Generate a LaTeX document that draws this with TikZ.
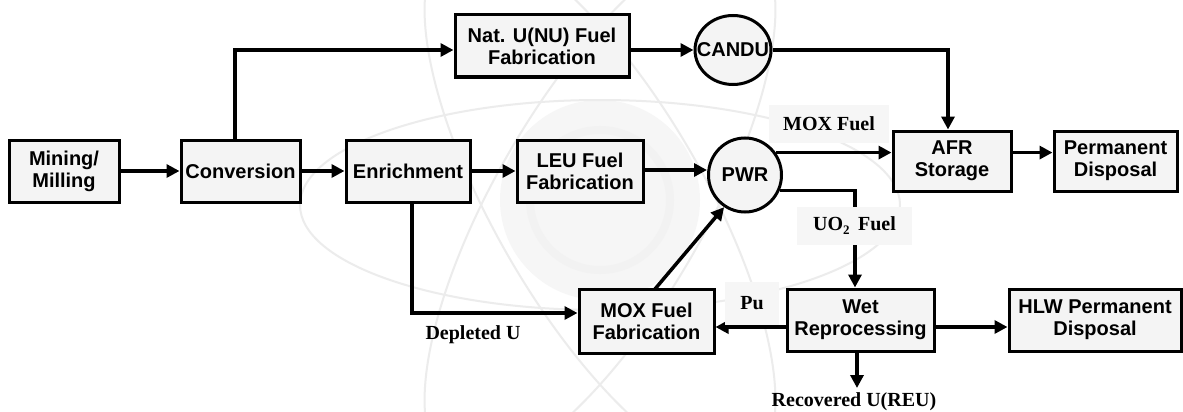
\documentclass[tikz,border=0pt]{standalone}
\usepackage{fontspec}
\setmainfont{Liberation Sans}
\newfontfamily\serifb{Liberation Serif}
\usetikzlibrary{arrows.meta,calc,shapes.geometric}
\definecolor{boxgray}{HTML}{F4F4F4}
\definecolor{labelgray}{HTML}{F6F6F6}
\definecolor{wmark}{HTML}{ECECEC}
\begin{document}
\begin{tikzpicture}[x=1pt,y=-1pt,
  box/.style={draw=black, line width=3pt, fill=boxgray, align=center, inner sep=0pt,
    font=\fontsize{20}{22}\selectfont\bfseries, minimum height=62pt},
  reactor/.style={draw=black, line width=3pt, fill=boxgray, ellipse, inner sep=0pt,
    font=\fontsize{20}{22}\selectfont\bfseries},
  lbl/.style={fill=labelgray, inner sep=0pt, font=\fontsize{20}{22}\serifb\bfseries},
  plain/.style={inner sep=0pt, font=\fontsize{20}{22}\serifb\bfseries},
  arr/.style={line width=3.5pt, -{Triangle[length=13pt,width=13pt]}},
  wm/.style={draw=wmark, line width=2pt}
]
\useasboundingbox (0,0) rectangle (1183,412);
\fill[white] (0,0) rectangle (1183,412);
% faint watermark (atom)
\fill[wmark!45] (600,200) circle (100);
\draw[wm, line width=8pt, draw=wmark!70] (600,200) circle (70);
\draw[wm] (600,205) ellipse [x radius=300, y radius=105];
\draw[wm, rotate around={60:(600,205)}] (600,205) ellipse [x radius=300, y radius=105];
\draw[wm, rotate around={-60:(600,205)}] (600,205) ellipse [x radius=300, y radius=105];

% nodes
\node[box, minimum width=110pt] (mining) at (64,171) {Mining/\\Milling};
\node[box, minimum width=119pt] (conv) at (240.5,171) {Conversion};
\node[box, minimum width=124pt] (enr) at (408,171) {Enrichment};
\node[box, minimum width=126pt] (leu) at (580,171) {LEU Fuel\\Fabrication};
\node[box, minimum width=174pt] (natu) at (542,46) {Nat. U(NU) Fuel\\Fabrication};
\node[reactor, minimum width=76pt, minimum height=69pt] (candu) at (733,50) {\makebox[0pt]{CANDU}};
\node[reactor, minimum width=73pt, minimum height=74pt] (pwr) at (745,175) {\makebox[0pt]{PWR}};
\node[box, minimum width=118pt, minimum height=60pt] (afr) at (952,161) {AFR\\Storage};
\node[box, minimum width=123pt, minimum height=60pt] (perm) at (1115.5,161) {Permanent\\Disposal};
\node[box, minimum width=135pt, minimum height=64pt] (mox) at (646.5,321) {MOX Fuel\\Fabrication};
\node[box, minimum width=147pt] (wet) at (860.5,320) {Wet\\Reprocessing};
\node[box, minimum width=172pt] (hlw) at (1095,320) {HLW Permanent\\Disposal};

% coordinates
\coordinate (convup) at (235,50);
\coordinate (candur) at (948,50);
\coordinate (pwrout) at (pwr.36);
\coordinate (pwrdn) at (pwr.-24);
\coordinate (uocol) at (855,190);
\coordinate (enrdn) at (412,313);
\coordinate (reu) at (857,388);

% connectors
\draw[arr] (mining) -- (conv);
\draw[arr] (conv) -- (enr);
\draw[arr] (enr) -- (leu);
\draw[arr] (leu.east |- 0,170) -- (pwr.west |- 0,170);
\draw[arr] (convup |- conv.north) -- (convup) -- (natu.west |- convup);
\draw[arr] (natu.east |- 0,50) -- (candu.west |- 0,50);
\draw[arr] (candu.east |- 0,50) -- (candur) -- (candur |- afr.north);
\draw[arr] (pwrout) -- (pwrout -| afr.west);
\draw[arr] (afr.east |- pwrout) -- (perm.west |- pwrout);
\draw[arr] (pwrdn) -- (pwrdn -| uocol) -- (uocol |- wet.north);
\draw[arr] (enrdn |- enr.south) -- (enrdn) -- (enrdn -| mox.west);
\draw[arr] (655,289) -- (pwr.-123);
\draw[arr] (wet.west |- 0,327) -- (mox.east |- 0,327);
\draw[arr] (wet.east |- 0,327) -- (hlw.west |- 0,327);
\draw[arr] (reu |- wet.south) -- (reu);

% labels
\node[lbl, minimum width=120pt, minimum height=38pt] (lmox) at (829,124) {MOX Fuel};
\node[lbl, minimum width=115pt, minimum height=38pt] (luo) at (854.5,226) {UO{\fontsize{13}{13}\selectfont\raisebox{-4pt}{2}}\, Fuel};
\node[lbl, minimum width=54pt, minimum height=43pt] (lpu) at (752,303) {Pu};
\node[plain] (ldep) at (473,335) {Depleted U};
\node[plain] (lreu) at (854,402) {Recovered U(REU)};
\end{tikzpicture}
\end{document}
